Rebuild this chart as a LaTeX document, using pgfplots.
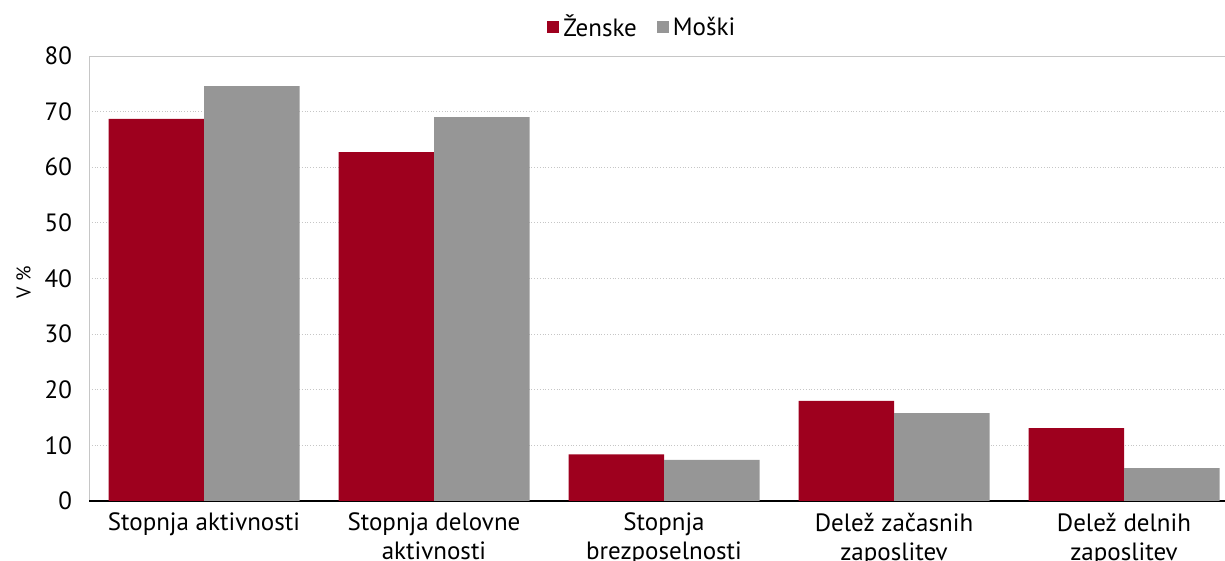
\documentclass[border=0pt]{standalone}
\usepackage{pgfplots}
\pgfplotsset{compat=1.18}
\usepackage{fontspec}
\setmainfont{PT Sans}
\definecolor{zen}{HTML}{9E001E}
\definecolor{mos}{HTML}{969696}

\begin{document}
\begin{tikzpicture}
\begin{axis}[
    name=ax,
    at={(0,0)}, anchor=south west,
    scale only axis,
    width=575pt, height=222.5pt,
    ybar=0pt,
    bar width=47.75pt,
    xmin=-0.5, xmax=4.5,
    ymin=0, ymax=80,
    ytick={0,10,...,80},
    xtick={0,1,2,3,4},
    xticklabels={Stopnja aktivnosti,{Stopnja delovne\\aktivnosti},{Stopnja\\brezposelnosti},{Delež začasnih\\zaposlitev},{Delež delnih\\zaposlitev}},
    xticklabel style={align=center, font=\fontsize{12.5}{14.5}\selectfont, yshift=-2.5pt},
    yticklabel style={font=\fontsize{12.5}{14}\selectfont, xshift=-5pt},
    /pgf/number format/assume math mode=true,
    major tick length=0pt,
    ymajorgrids,
    major grid style={gray!45, densely dotted},
    extra y ticks={0},
    extra y tick labels={},
    extra y tick style={grid=major, major grid style={black, line width=1pt, solid}},
    axis line style={gray!45},
    ylabel={V \%},
    ylabel style={font=\fontsize{12}{14}\selectfont},
    every axis y label/.style={at={(ticklabel cs:0.5)}, rotate=90, anchor=south, xshift=-2pt},
    legend style={at={(rel axis cs:0.482,1.064)}, anchor=center, draw=none,
        legend columns=2, font=\fontsize{12.5}{14}\selectfont,
        /tikz/every even column/.append style={column sep=8pt}},
    legend image code/.code={\fill[#1] (0cm,-0.1cm) rectangle (0.21cm,0.12cm);},
    clip=false,
]
\addplot[fill=zen, draw=none] coordinates {(0,68.7) (1,62.7) (2,8.4) (3,18.0) (4,13.1)};
\addplot[fill=mos, draw=none] coordinates {(0,74.6) (1,69.0) (2,7.4) (3,15.8) (4,5.9)};
\legend{Ženske,Moški}
\end{axis}
\pgfresetboundingbox
\path[use as bounding box] (-44.5pt,-30pt) rectangle (568pt,250.5pt);
\end{tikzpicture}
\end{document}
